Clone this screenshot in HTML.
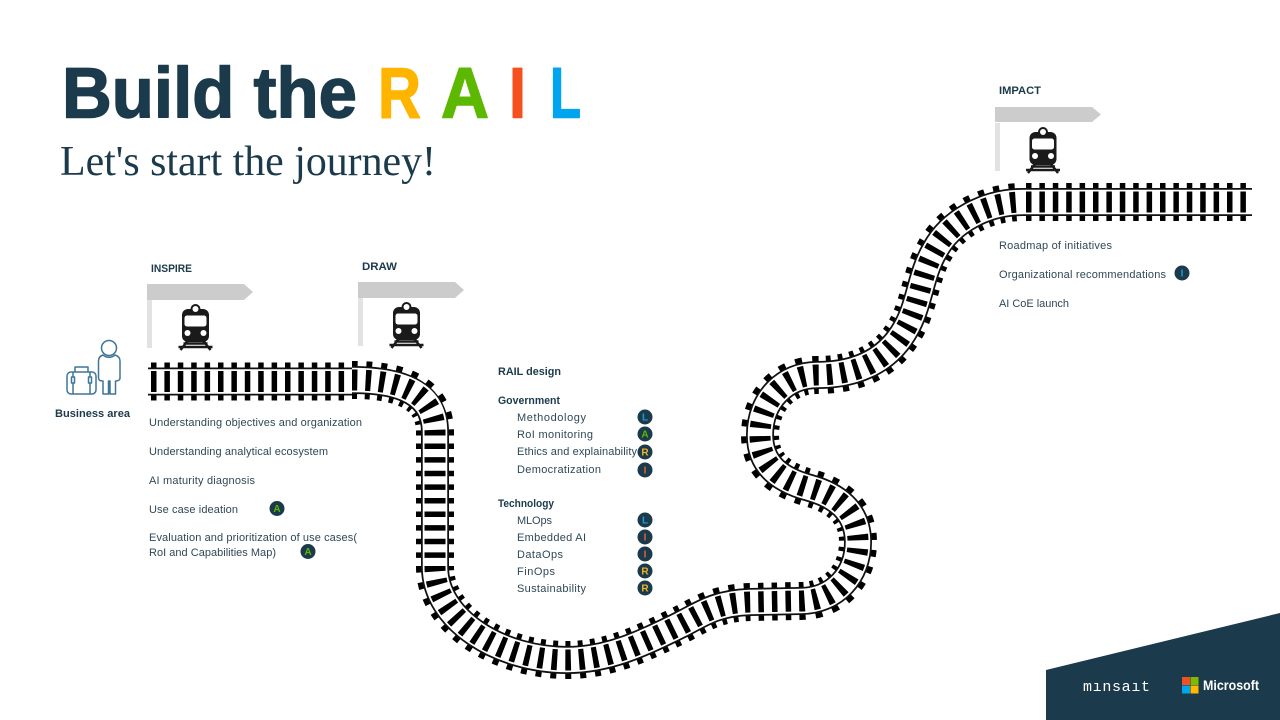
<!DOCTYPE html>
<html lang="en">
<head>
<meta charset="utf-8">
<title>Build the RAIL</title>
<style>
html,body{margin:0;padding:0;background:#fff;width:1280px;height:720px;overflow:hidden}
svg{display:block}
text{font-family:"Liberation Sans",sans-serif;fill:#2f4856;font-size:11px}
.b{font-weight:bold;fill:#1b3a4b}
.t{font-weight:bold;font-size:71px;stroke-width:1.400px;stroke-linejoin:round}
.bl{font-weight:bold;font-size:10px;text-anchor:middle}
</style>
</head>
<body>
<svg width="1280" height="720" viewBox="0 0 1280 720" xmlns="http://www.w3.org/2000/svg">
<defs>
<path id="curve" d="M352 380 C385 380 435 385 435 432 L435 567 C435 620 500 660 567 660 C610 660 645 642 680 625 C700 615 715 603 750 602 L800 601 C835 601 858 575 858 542 C858 510 835 495 810 488 C780 480 760 465 760 435 C760 400 785 375 817 375 C850 375 885 365 905 330 C920 305 920 275 935 250 C950 222 985 202 1023 202"/>
<g id="trainIcon">
<rect x="-13.500" y="4" width="27" height="33" rx="6" fill="#1a1a1a"/>
<circle cx="0" cy="4" r="4" fill="#fff" stroke="#1a1a1a" stroke-width="2"/>
<rect x="-11" y="10.500" width="22" height="11" rx="2.500" fill="#fff"/>
<circle cx="-8" cy="28" r="3" fill="#fff"/>
<circle cx="8" cy="28" r="3" fill="#fff"/>
<path d="M-8 36 L-15 45 M8 36 L15 45 M-17 42 H17 M-12 38.500 H12" stroke="#1a1a1a" stroke-width="2.500" fill="none"/>
</g>
</defs>

<rect width="1280" height="720" fill="#fff"/>

<!-- Title -->
<text x="62" y="117.500" class="t" style="fill:#1b3a4b;stroke:#1b3a4b" textLength="295" lengthAdjust="spacingAndGlyphs">Build the</text>
<text x="378" y="117.500" class="t" style="fill:#ffb400;stroke:#ffb400" textLength="43" lengthAdjust="spacingAndGlyphs">R</text>
<text x="441" y="117.500" class="t" style="fill:#5cb800;stroke:#5cb800" textLength="48" lengthAdjust="spacingAndGlyphs">A</text>
<text x="509" y="117.500" class="t" style="fill:#f4511e;stroke:#f4511e" textLength="17" lengthAdjust="spacingAndGlyphs">I</text>
<text x="550" y="117.500" class="t" style="fill:#00a4ef;stroke:#00a4ef" textLength="31" lengthAdjust="spacingAndGlyphs">L</text>
<text x="60" y="175" style="font-family:'Liberation Serif',serif;font-size:42px;fill:#1b3a4b" textLength="376" lengthAdjust="spacingAndGlyphs">Let's start the journey!</text>

<!-- Tracks -->
<g fill="none">
<path d="M148 381.500 H352" stroke="#000" stroke-width="38" stroke-dasharray="5.500 7.900" stroke-dashoffset="-3"/>
<path d="M148 381.500 H352" stroke="#111" stroke-width="28"/>
<path d="M148 381.500 H352" stroke="#fff" stroke-width="24.500"/>
<path d="M148 381.500 H352" stroke="#000" stroke-width="21" stroke-dasharray="5.500 7.900" stroke-dashoffset="-3"/>

<path d="M1023 202 H1252" stroke="#000" stroke-width="38" stroke-dasharray="5.500 7.900" stroke-dashoffset="-3"/>
<path d="M1023 202 H1252" stroke="#111" stroke-width="28"/>
<path d="M1023 202 H1252" stroke="#fff" stroke-width="24.500"/>
<path d="M1023 202 H1252" stroke="#000" stroke-width="21" stroke-dasharray="5.500 7.900" stroke-dashoffset="-3"/>

<use href="#curve" stroke="#000" stroke-width="38" stroke-dasharray="5.500 8.100"/>
<use href="#curve" stroke="#111" stroke-width="28"/>
<use href="#curve" stroke="#fff" stroke-width="24.500"/>
<use href="#curve" stroke="#000" stroke-width="21" stroke-dasharray="5.500 8.100"/>
</g>

<!-- Flags -->
<polygon points="147,284 244,284 253,292 244,300 147,300" fill="#cccccc"/>
<rect x="147" y="300" width="5" height="48" fill="#e2e2e2"/>
<polygon points="358,282 455,282 464,290 455,298 358,298" fill="#cccccc"/>
<rect x="358" y="298" width="5" height="48" fill="#e2e2e2"/>
<polygon points="995,107 1092,107 1101,114.500 1092,122 995,122" fill="#cccccc"/>
<rect x="995" y="123" width="5" height="48" fill="#e2e2e2"/>

<use href="#trainIcon" transform="translate(195.500 305)"/>
<use href="#trainIcon" transform="translate(406.500 303)"/>
<use href="#trainIcon" transform="translate(1043 128)"/>

<text x="151" y="272" class="b" textLength="41" lengthAdjust="spacingAndGlyphs">INSPIRE</text>
<text x="362" y="270" class="b" textLength="35" lengthAdjust="spacingAndGlyphs">DRAW</text>
<text x="999" y="94" class="b" textLength="42" lengthAdjust="spacingAndGlyphs">IMPACT</text>

<!-- Person with suitcase -->
<g fill="none" stroke="#3f7698" stroke-width="1.500" stroke-linejoin="round">
<circle cx="109" cy="348" r="7.500"/>
<path d="M103 355 C100 356 98.500 358 98.500 361 V378 C98.500 380 100 381 103 381 V394 H108.500 V381 H110 V394 H115.500 V381 C118 381 120 380 120 378 V361 C120 358 118 356 115 355 C112 358 106 358 103 355 Z"/>
<rect x="67" y="372" width="29" height="22" rx="4"/>
<path d="M75 372 V367 H88 V372"/>
<rect x="71.500" y="377" width="3" height="6"/>
<rect x="88.500" y="377" width="3" height="6"/>
<path d="M73 372 V377 M73 383 V394 M90 372 V377 M90 383 V394"/>
</g>
<text x="55" y="417" class="b" textLength="75" lengthAdjust="spacingAndGlyphs">Business area</text>

<!-- Inspire list -->
<text x="149" y="426" textLength="213">Understanding objectives and organization</text>
<text x="149" y="455" textLength="179">Understanding analytical ecosystem</text>
<text x="149" y="484" textLength="106">AI maturity diagnosis</text>
<text x="149" y="513" textLength="89">Use case ideation</text>
<text x="149" y="541" textLength="208">Evaluation and prioritization of use cases(</text>
<text x="149" y="556" textLength="127">RoI and Capabilities Map)</text>
<circle cx="277" cy="508.500" r="7.500" fill="#1b3a4b"/><text x="277" y="512" class="bl" style="fill:#5cb800">A</text>
<circle cx="308" cy="551.500" r="7.500" fill="#1b3a4b"/><text x="308" y="555" class="bl" style="fill:#5cb800">A</text>

<!-- RAIL design -->
<text x="498" y="375" class="b" textLength="63" lengthAdjust="spacingAndGlyphs">RAIL design</text>
<text x="498" y="404" class="b" textLength="62" lengthAdjust="spacingAndGlyphs">Government</text>
<text x="517" y="421" textLength="69">Methodology</text>
<text x="517" y="438" textLength="76">RoI monitoring</text>
<text x="517" y="455" textLength="120">Ethics and explainability</text>
<text x="517" y="473" textLength="84">Democratization</text>
<text x="498" y="507" class="b" textLength="56" lengthAdjust="spacingAndGlyphs">Technology</text>
<text x="517" y="524" textLength="35">MLOps</text>
<text x="517" y="541" textLength="69">Embedded AI</text>
<text x="517" y="558" textLength="46">DataOps</text>
<text x="517" y="575" textLength="38">FinOps</text>
<text x="517" y="592" textLength="69">Sustainability</text>

<g fill="#1b3a4b">
<circle cx="645" cy="417" r="7.500"/><circle cx="645" cy="434" r="7.500"/><circle cx="645" cy="452" r="7.500"/><circle cx="645" cy="470" r="7.500"/>
<circle cx="645" cy="520" r="7.500"/><circle cx="645" cy="537" r="7.500"/><circle cx="645" cy="554" r="7.500"/><circle cx="645" cy="571" r="7.500"/><circle cx="645" cy="588" r="7.500"/>
<circle cx="1182" cy="273" r="7.500"/>
</g>
<text x="645" y="420.500" class="bl" style="fill:#1d9bd8">L</text>
<text x="645" y="437.500" class="bl" style="fill:#5cb800">A</text>
<text x="645" y="455.500" class="bl" style="fill:#f0b429">R</text>
<text x="645" y="473.500" class="bl" style="fill:#e2603a">I</text>
<text x="645" y="523.500" class="bl" style="fill:#1d9bd8">L</text>
<text x="645" y="540.500" class="bl" style="fill:#e2603a">I</text>
<text x="645" y="557.500" class="bl" style="fill:#e2603a">I</text>
<text x="645" y="574.500" class="bl" style="fill:#f0b429">R</text>
<text x="645" y="591.500" class="bl" style="fill:#f0b429">R</text>
<text x="1182" y="276.500" class="bl" style="fill:#1d9bd8">I</text>

<!-- Impact list -->
<text x="999" y="249" textLength="113">Roadmap of initiatives</text>
<text x="999" y="278" textLength="167">Organizational recommendations</text>
<text x="999" y="307" textLength="70">AI CoE launch</text>

<!-- Footer -->
<polygon points="1046,670 1280,613 1280,720 1046,720" fill="#1b3a4b"/>
<text x="1083" y="691" style="font-family:'Liberation Mono',monospace;font-size:15px;fill:#fff" textLength="67">mınsaıt</text>
<rect x="1182" y="677" width="8" height="8" fill="#f25022"/>
<rect x="1190.500" y="677" width="8" height="8" fill="#7fba00"/>
<rect x="1182" y="685.500" width="8" height="8" fill="#00a4ef"/>
<rect x="1190.500" y="685.500" width="8" height="8" fill="#ffb900"/>
<text x="1203" y="690" style="font-size:13.500px;font-weight:bold;fill:#fff" textLength="56" lengthAdjust="spacingAndGlyphs">Microsoft</text>
</svg>
</body>
</html>
